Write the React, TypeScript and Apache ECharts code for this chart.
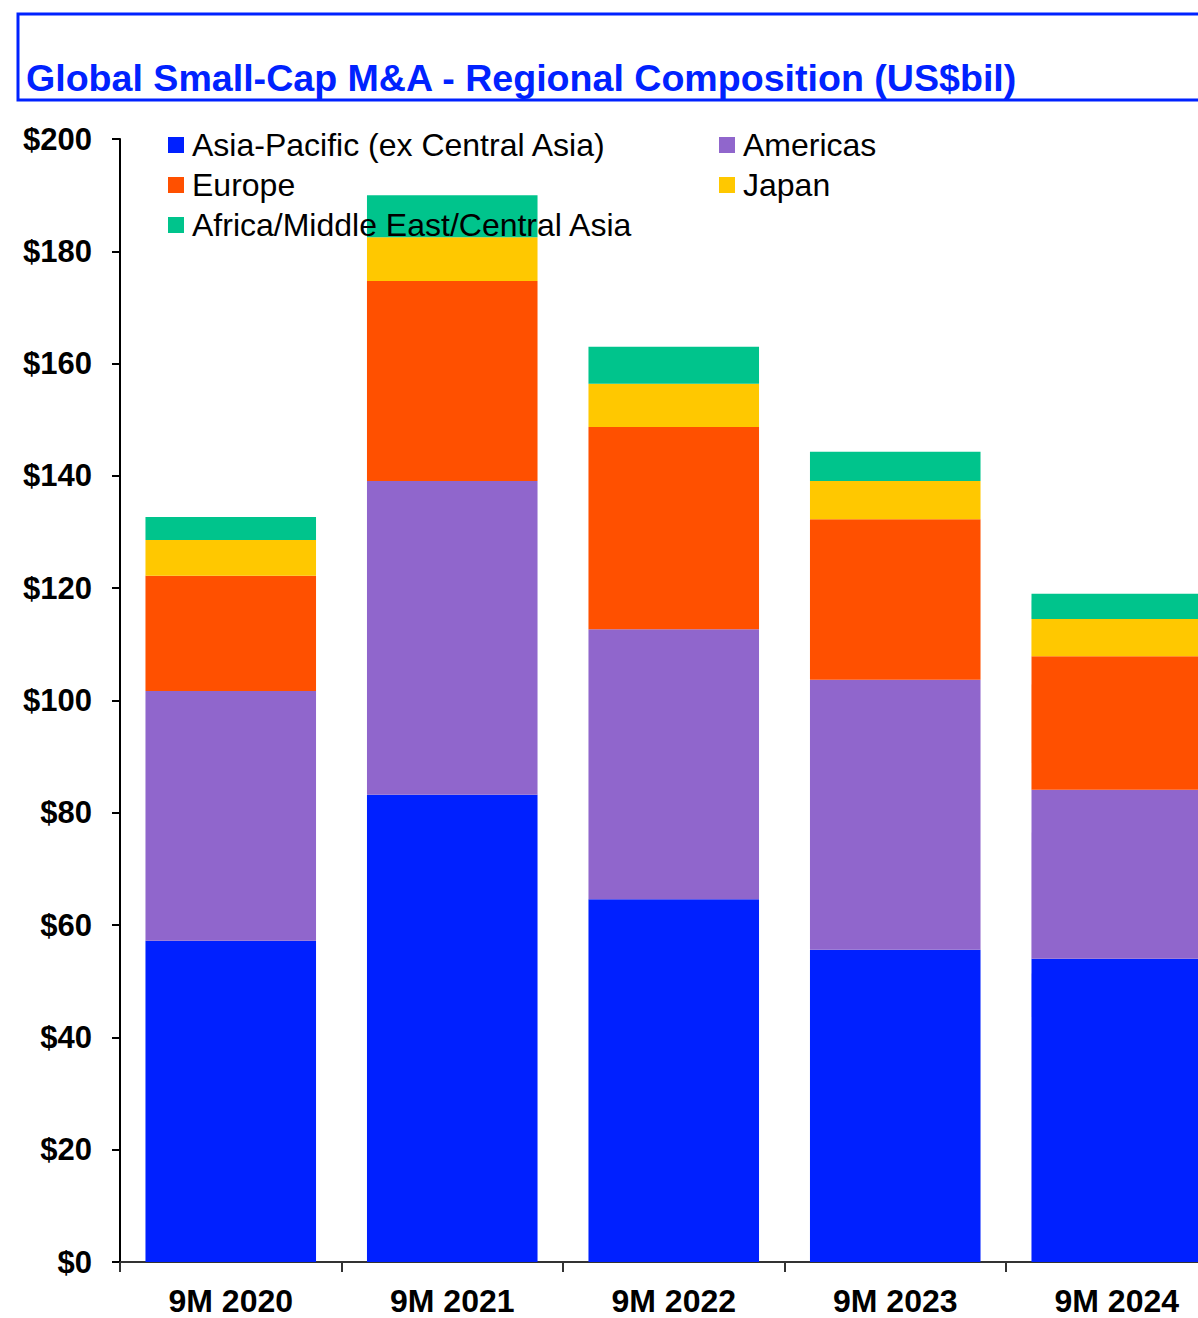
import React, { useEffect, useRef } from "react";
import * as echarts from "echarts";

const categories = ["9M 2020", "9M 2021", "9M 2022", "9M 2023", "9M 2024"];
const asiaPacific = [57.2, 83.2, 64.6, 55.6, 54.0];
const americas = [44.5, 55.9, 48.1, 48.1, 30.1];
const europe = [20.5, 35.6, 36.0, 28.6, 23.8];
const japan = [6.4, 7.8, 7.7, 6.8, 6.6];
const africaME = [4.1, 7.5, 6.6, 5.2, 4.5];

const seriesNames = [
  "Asia-Pacific (ex Central Asia)",
  "Americas",
  "Europe",
  "Japan",
  "Africa/Middle East/Central Asia",
];
const seriesData = [asiaPacific, americas, europe, japan, africaME];
const colors = ["#0020FF", "#9066CC", "#FF5000", "#FFC800", "#00C48C"];

const titleText = "Global Small-Cap M&A - Regional Composition (US$bil)";
const FONT = 'Arial, "Liberation Sans", sans-serif';
const BLUE = "#0022FF";

export default function App() {
  const ref = useRef<HTMLDivElement>(null);
  useEffect(() => {
    if (!ref.current) return;
    const chart = echarts.init(ref.current, undefined, { renderer: "svg" });
    const legendCommon = {
      orient: "vertical",
      top: 124,
      padding: 5,
      itemWidth: 16,
      itemHeight: 16,
      itemGap: 8,
      icon: "rect",
      selectedMode: false,
      textStyle: {
        fontFamily: FONT,
        fontSize: 32,
        color: "#000",
        padding: [0, 0, 0, 3],
      },
    };
    chart.setOption({
      animation: false,
      backgroundColor: "#fff",
      textStyle: { fontFamily: FONT },
      graphic: [
        {
          type: "rect",
          shape: { x: 18, y: 14, width: 1300, height: 86 },
          style: { fill: "none", stroke: BLUE, lineWidth: 3 },
          z: 10,
        },
        {
          type: "text",
          x: 26,
          y: 78,
          style: {
            text: titleText,
            fill: BLUE,
            font: `bold 37.6px ${FONT}`,
            verticalAlign: "middle",
            align: "left",
          },
          z: 10,
        },
      ],
      legend: [
        {
          ...legendCommon,
          left: 163,
          data: [seriesNames[0], seriesNames[2], seriesNames[4]],
        },
        {
          ...legendCommon,
          left: 714,
          data: [seriesNames[1], seriesNames[3]],
        },
      ],
      grid: { left: 120, right: 12.5, top: 139, bottom: 56, containLabel: false },
      xAxis: {
        type: "category",
        data: categories,
        axisLine: { lineStyle: { color: "#333", width: 2 } },
        axisTick: { show: true, length: 10, lineStyle: { color: "#333", width: 2 } },
        axisLabel: {
          fontFamily: FONT,
          fontSize: 32,
          fontWeight: "bold",
          color: "#000",
          margin: 23,
        },
      },
      yAxis: {
        type: "value",
        min: 0,
        max: 200,
        interval: 20,
        splitLine: { show: false },
        axisLine: { show: true, lineStyle: { color: "#000", width: 2 } },
        axisTick: { show: true, length: 8, lineStyle: { color: "#000", width: 2 } },
        axisLabel: {
          fontFamily: FONT,
          fontSize: 31,
          fontWeight: "bold",
          color: "#000",
          margin: 28,
          formatter: (v: number) => "$" + v,
        },
      },
      series: seriesNames.map((name, i) => ({
        name,
        type: "bar",
        stack: "total",
        data: seriesData[i],
        barCategoryGap: "23%",
        itemStyle: { color: colors[i] },
      })),
    });
    return () => chart.dispose();
  }, []);
  return (
    <div
      ref={ref}
      style={{ position: "fixed", left: 0, top: 0, width: 1240, height: 1318 }}
    />
  );
}
